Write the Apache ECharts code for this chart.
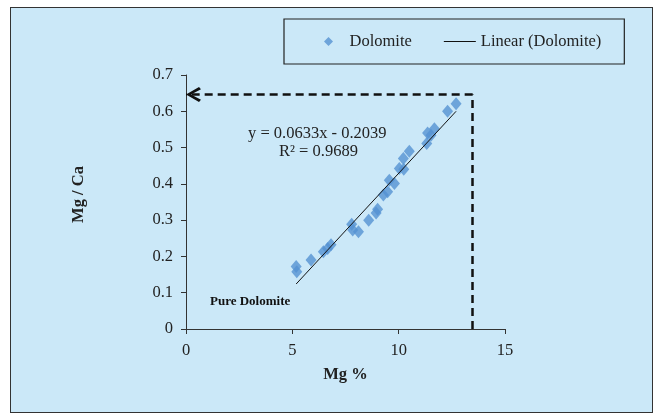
<!DOCTYPE html>
<html>
<head>
<meta charset="utf-8">
<script src="https://cdn.jsdelivr.net/npm/echarts@6/dist/echarts.min.js"></script>
<style>
  html, body { margin: 0; padding: 0; background: #fff; }
  #frame { position: absolute; left: 10px; top: 7px; width: 641px; height: 404px;
           background: #cbe8f8; border: 1.5px solid #333; }
  #main { position: absolute; left: 0; top: 0; width: 660px; height: 416px; }
</style>
</head>
<body>
<div id="frame"></div>
<div id="main"></div>
<script>
// Mg % vs Mg/Ca for dolomite samples
let mgPct = [5.18, 5.21, 5.88, 6.46, 6.66, 6.82, 7.79, 7.84, 8.11, 8.59, 8.94, 9.01, 9.28,
  9.48, 9.56, 9.80, 10.03, 10.24, 10.22, 10.50, 11.32, 11.36, 11.52, 11.68, 12.30, 12.70]
let mgCa = [0.172, 0.158, 0.190, 0.213, 0.222, 0.232, 0.289, 0.273, 0.268, 0.300, 0.320, 0.330, 0.369,
  0.378, 0.410, 0.401, 0.442, 0.440, 0.470, 0.490, 0.511, 0.540, 0.534, 0.552, 0.600, 0.621]
// linear trendline end points
let trendX = [5.18, 12.70]
let trendY = [0.124, 0.600]
// pure dolomite guide (dashed)
let guideX = 13.48
let guideY = 0.646

let font = 'Liberation Serif'
// open arrow head, apex at the symbol centre (tiny subpath pads the bbox on the other side)
let arrowHead = 'path://M0,13 L10,0 L20,13 L17,15 L10,5 L3,15 Z M10,-15 L10.01,-15 Z'

let myChart = echarts.init(document.getElementById('main'))
myChart.setOption({
  backgroundColor: 'transparent',
  textStyle: { fontFamily: font },
  animation: false,
  grid: { left: 186, right: 155, top: 75, bottom: 87 },
  legend: {
    left: 284,
    top: 19,
    padding: [14, 23, 14, 40],
    borderColor: '#222',
    borderWidth: 1.2,
    itemWidth: 32,
    itemHeight: 9,
    itemGap: 32,
    symbolKeepAspect: true,
    textStyle: { fontFamily: font, fontSize: 16.5, color: '#222' },
    data: [
      { name: 'Dolomite', icon: 'path://M5,0 L10,5 L5,10 L0,5 Z' },
      { name: 'Linear (Dolomite)', icon: 'path://M0,0 L32,0 L32,1 L0,1 Z' }
    ]
  },
  xAxis: {
    type: 'value',
    min: 0,
    max: 15,
    interval: 5,
    name: 'Mg %',
    nameLocation: 'middle',
    nameGap: 37,
    nameTextStyle: { fontFamily: font, fontSize: 16.5, fontWeight: 'bold', color: '#222' },
    splitLine: { show: false },
    axisLine: { lineStyle: { color: '#333', width: 1 } },
    axisTick: { inside: false, length: 5, lineStyle: { color: '#333' } },
    axisLabel: { fontFamily: font, fontSize: 16.5, color: '#222', margin: 13 }
  },
  yAxis: {
    type: 'value',
    min: 0,
    max: 0.7,
    interval: 0.1,
    name: 'Mg / Ca',
    nameLocation: 'middle',
    nameGap: 99,
    nameTextStyle: { fontFamily: font, fontSize: 16.5, fontWeight: 'bold', color: '#222',
      padding: [0, 0, 0, 15] },
    splitLine: { show: false },
    axisLine: { show: true, lineStyle: { color: '#333', width: 1 } },
    axisTick: { show: true, inside: false, length: 5, lineStyle: { color: '#333' } },
    axisLabel: { fontFamily: font, fontSize: 16.5, color: '#222', margin: 13 }
  },
  series: [
    {
      name: 'Dolomite',
      type: 'scatter',
      symbol: 'diamond',
      symbolSize: [11, 13],
      itemStyle: { color: '#5592d2' },
      data: mgPct.map((x, i) => [x, mgCa[i]]),
      markLine: {
        silent: true,
        animation: false,
        label: { show: false },
        lineStyle: { color: '#111', width: 2.5, type: [8, 5] },
        symbol: ['none', 'none'],
        data: [
          [{ coord: [guideX, 0] }, { coord: [guideX, guideY] }],
          [{ coord: [guideX, guideY], symbol: 'none' },
           { coord: [0, guideY], symbol: arrowHead, symbolSize: [15, 30] }]
        ]
      }
    },
    {
      name: 'Linear (Dolomite)',
      type: 'line',
      symbol: 'none',
      lineStyle: { color: '#111', width: 1 },
      itemStyle: { color: '#111' },
      data: trendX.map((x, i) => [x, trendY[i]])
    }
  ],
  graphic: [
    {
      type: 'text',
      left: 248,
      top: 125,
      style: { text: 'y = 0.0633x - 0.2039', font: '16.5px "Liberation Serif"', fill: '#222' }
    },
    {
      type: 'text',
      left: 279,
      top: 143,
      style: { text: 'R² = 0.9689', font: '16.5px "Liberation Serif"', fill: '#222' }
    },
    {
      type: 'text',
      left: 210,
      top: 295,
      style: { text: 'Pure Dolomite', font: 'bold 13px "Liberation Serif"', fill: '#111' }
    }
  ]
})
</script>
</body>
</html>
